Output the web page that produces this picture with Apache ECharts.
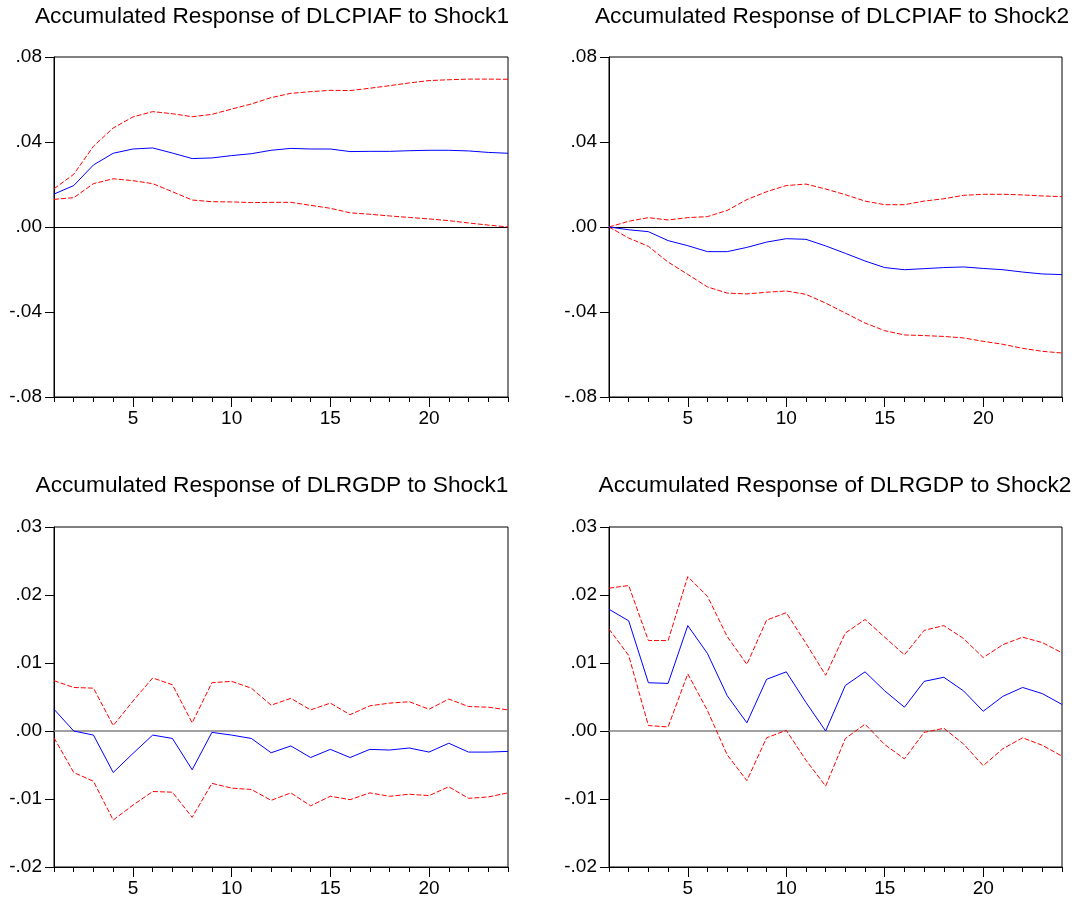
<!DOCTYPE html>
<html>
<head>
<meta charset="utf-8">
<script src="https://cdn.jsdelivr.net/npm/echarts@6/dist/echarts.min.js"></script>
<style>
html,body{margin:0;padding:0;background:#fff;}
#chart{width:1087px;height:904px;}
</style>
</head>
<body>
<div id="chart"></div>
<script>
// ---- Data ----
const periods = ['1','2','3','4','5','6','7','8','9','10','11','12','13','14','15','16','17','18','19','20','21','22','23','24'];
const xTickLabels = ['5','10','15','20'];

const titles = [
  'Accumulated Response of DLCPIAF to Shock1',
  'Accumulated Response of DLCPIAF to Shock2',
  'Accumulated Response of DLRGDP to Shock1',
  'Accumulated Response of DLRGDP to Shock2'
];

// Panel 1: DLCPIAF to Shock1
const cpiS1 = [0.0155,0.0195,0.0292,0.0347,0.0367,0.0372,0.0348,0.0322,0.0325,0.0336,0.0345,0.0361,0.0370,0.0367,0.0367,0.0355,0.0356,0.0356,0.0359,0.0361,0.0361,0.0358,0.0351,0.0347];
const cpiS1Up = [0.0180,0.0248,0.0380,0.0466,0.0518,0.0543,0.0533,0.0519,0.0530,0.0555,0.0579,0.0609,0.0629,0.0637,0.0643,0.0642,0.0653,0.0665,0.0678,0.0689,0.0693,0.0696,0.0696,0.0695];
const cpiS1Lo = [0.0130,0.0138,0.0204,0.0227,0.0218,0.0204,0.0166,0.0127,0.0119,0.0118,0.0115,0.0116,0.0116,0.0102,0.0088,0.0067,0.0060,0.0052,0.0045,0.0038,0.0030,0.0019,0.0009,0.0000];

// Panel 2: DLCPIAF to Shock2
const cpiS2 = [0.0000,-0.0013,-0.0022,-0.0064,-0.0088,-0.0116,-0.0116,-0.0096,-0.0071,-0.0055,-0.0058,-0.0089,-0.0124,-0.0160,-0.0191,-0.0201,-0.0196,-0.0191,-0.0188,-0.0195,-0.0201,-0.0212,-0.0221,-0.0224];
const cpiS2Up = [0.0000,0.0027,0.0044,0.0033,0.0044,0.0049,0.0078,0.0129,0.0166,0.0195,0.0202,0.0179,0.0152,0.0122,0.0105,0.0105,0.0122,0.0133,0.0149,0.0154,0.0154,0.0151,0.0146,0.0143];
const cpiS2Lo = [0.0000,-0.0052,-0.0091,-0.0165,-0.0223,-0.0282,-0.0311,-0.0315,-0.0307,-0.0301,-0.0317,-0.0358,-0.0405,-0.0452,-0.0488,-0.0508,-0.0511,-0.0515,-0.0522,-0.0538,-0.0552,-0.0571,-0.0585,-0.0593];

// Panel 3: DLRGDP to Shock1
const gdpS1 = [0.0032,0.0000,-0.0006,-0.0061,-0.0033,-0.0006,-0.0011,-0.0057,-0.0002,-0.0006,-0.0011,-0.0032,-0.0022,-0.0039,-0.0027,-0.0039,-0.0027,-0.0028,-0.0025,-0.0031,-0.0018,-0.0031,-0.0031,-0.0030];
const gdpS1Up = [0.0074,0.0064,0.0063,0.0008,0.0044,0.0078,0.0068,0.0012,0.0071,0.0073,0.0063,0.0038,0.0048,0.0031,0.0041,0.0024,0.0037,0.0041,0.0043,0.0032,0.0047,0.0036,0.0035,0.0031];
const gdpS1Lo = [-0.0010,-0.0061,-0.0074,-0.0131,-0.0109,-0.0089,-0.0090,-0.0127,-0.0077,-0.0084,-0.0086,-0.0102,-0.0091,-0.0110,-0.0096,-0.0101,-0.0091,-0.0096,-0.0093,-0.0095,-0.0082,-0.0099,-0.0097,-0.0091];

// Panel 4: DLRGDP to Shock2
const gdpS2 = [0.0179,0.0162,0.0071,0.0070,0.0155,0.0114,0.0052,0.0012,0.0076,0.0087,0.0042,0.0000,0.0067,0.0087,0.0059,0.0035,0.0073,0.0079,0.0059,0.0029,0.0051,0.0064,0.0055,0.0039];
const gdpS2Up = [0.0210,0.0214,0.0133,0.0133,0.0227,0.0198,0.0139,0.0098,0.0163,0.0174,0.0129,0.0082,0.0144,0.0164,0.0138,0.0112,0.0148,0.0155,0.0136,0.0108,0.0127,0.0138,0.0130,0.0115];
const gdpS2Lo = [0.0150,0.0111,0.0008,0.0006,0.0084,0.0030,-0.0035,-0.0073,-0.0010,0.0001,-0.0043,-0.0081,-0.0011,0.0010,-0.0020,-0.0041,-0.0002,0.0004,-0.0019,-0.0051,-0.0026,-0.0010,-0.0021,-0.0037];

// y-axis ranges
const yTopRange = {min: -0.08, max: 0.08, interval: 0.04};
const yBotRange = {min: -0.02, max: 0.03, interval: 0.01};

// ---- Chart ----
const FONT = '"Liberation Sans", Arial, sans-serif';
const panels = [
  {title: titles[0], resp: cpiS1, up: cpiS1Up, lo: cpiS1Lo, range: yTopRange, grid: {left: 54, top: 57, width: 454, height: 340}, titleX: 272, titleY: 5, zeroColor: '#000000', zeroWidth: 1},
  {title: titles[1], resp: cpiS2, up: cpiS2Up, lo: cpiS2Lo, range: yTopRange, grid: {left: 609, top: 57, width: 453, height: 340}, titleX: 832, titleY: 5, zeroColor: '#000000', zeroWidth: 1},
  {title: titles[2], resp: gdpS1, up: gdpS1Up, lo: gdpS1Lo, range: yBotRange, grid: {left: 54, top: 527, width: 454, height: 340}, titleX: 272, titleY: 474, zeroColor: '#808080', zeroWidth: 1.5},
  {title: titles[3], resp: gdpS2, up: gdpS2Up, lo: gdpS2Lo, range: yBotRange, grid: {left: 609, top: 527, width: 453, height: 340}, titleX: 835, titleY: 474, zeroColor: '#808080', zeroWidth: 1.5}
];

function fmt(v) {
  const r = Math.round(v * 100) / 100;
  if (Math.abs(r) < 1e-9) return '.00';
  const s = Math.abs(r).toFixed(2).replace(/^0/, '');
  return (r < 0 ? '-' : '') + s;
}
const isMajor = (idx, val) => xTickLabels.indexOf(String(val)) >= 0;

const option = {
  animation: false,
  backgroundColor: '#ffffff',
  title: [], grid: [], xAxis: [], yAxis: [], series: []
};

panels.forEach((p, i) => {
  option.title.push({
    text: p.title, left: p.titleX, top: p.titleY, textAlign: 'center', padding: 0,
    textStyle: {fontFamily: FONT, fontSize: 22.7, fontWeight: 'normal', color: '#000'}
  });
  option.grid.push(Object.assign({show: true, borderColor: '#000', borderWidth: 1, backgroundColor: 'transparent', containLabel: false}, p.grid));
  // minor-tick axis with labels
  option.xAxis.push({
    type: 'category', gridIndex: i, data: periods, boundaryGap: false, position: 'bottom',
    axisLine: {show: true, onZero: false, lineStyle: {color: '#000', width: 1}},
    axisTick: {show: true, inside: false, length: 5, interval: 0, lineStyle: {color: '#000'}},
    axisLabel: {show: true, interval: isMajor, margin: 12, fontFamily: FONT, fontSize: 19, color: '#000'},
    splitLine: {show: false}
  });
  // major-tick axis
  option.xAxis.push({
    type: 'category', gridIndex: i, data: periods, boundaryGap: false, position: 'bottom',
    axisLine: {show: false, onZero: false},
    axisTick: {show: true, inside: false, length: 10, interval: isMajor, lineStyle: {color: '#000'}},
    axisLabel: {show: false},
    splitLine: {show: false}
  });
  option.yAxis.push({
    type: 'value', gridIndex: i, min: p.range.min, max: p.range.max, interval: p.range.interval,
    axisLine: {show: true, lineStyle: {color: '#000', width: 1}},
    axisTick: {show: true, inside: false, length: 9, lineStyle: {color: '#000'}},
    axisLabel: {show: true, margin: 12, formatter: fmt, fontFamily: FONT, fontSize: 19, color: '#000'},
    splitLine: {show: false}
  });
  const xi = i * 2;
  option.series.push({
    type: 'line', xAxisIndex: xi, yAxisIndex: i, data: p.up, showSymbol: false, symbol: 'none', silent: true,
    lineStyle: {color: '#ff0000', width: 1, type: [5, 2]}, z: 3
  });
  option.series.push({
    type: 'line', xAxisIndex: xi, yAxisIndex: i, data: p.lo, showSymbol: false, symbol: 'none', silent: true,
    lineStyle: {color: '#ff0000', width: 1, type: [5, 2]}, z: 3
  });
  option.series.push({
    type: 'line', xAxisIndex: xi, yAxisIndex: i, data: p.resp, showSymbol: false, symbol: 'none', silent: true,
    lineStyle: {color: '#0000ff', width: 1}, z: 4,
    markLine: {silent: true, symbol: 'none', label: {show: false},
      lineStyle: {color: p.zeroColor, width: p.zeroWidth, type: 'solid'},
      data: [{yAxis: 0}], z: 2}
  });
});

const chart = echarts.init(document.getElementById('chart'), null, {renderer: 'canvas'});
chart.setOption(option);
</script>
</body>
</html>
